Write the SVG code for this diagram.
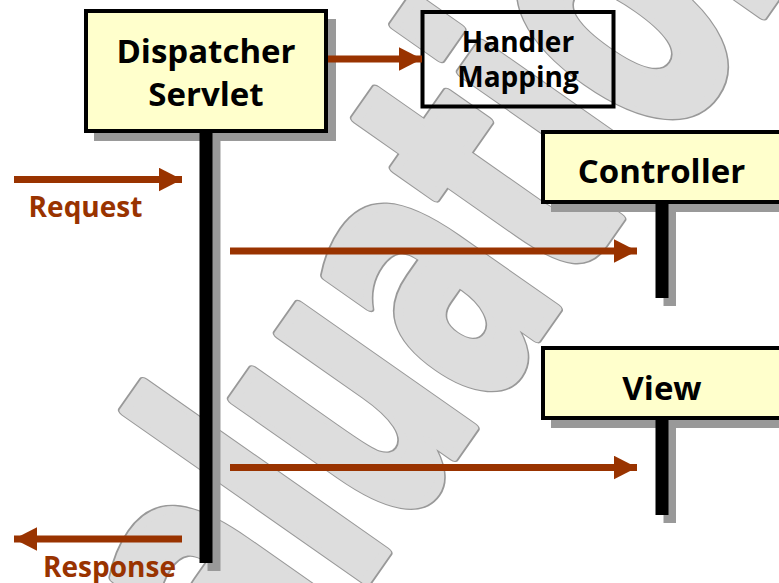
<svg xmlns="http://www.w3.org/2000/svg" width="779" height="583" viewBox="0 0 779 583">
  <style>
    .box { fill: #ffffcc; stroke: #000; stroke-width: 4; }
    .plain { fill: none; stroke: #000; stroke-width: 4; }
    .shadow { fill: #999999; }
    .life { fill: #000; }
    .label { font-family: "Open Sans", "Liberation Sans", sans-serif; font-weight: bold; fill: #000; text-anchor: middle; }
    .flow { stroke: #993300; stroke-width: 7; fill: none; }
    .flowtext { font-family: "Open Sans", "Liberation Sans", sans-serif; font-weight: bold; fill: #993300; font-size: 28px; text-anchor: middle; }
    .mark { font-family: "DejaVu Sans", sans-serif; font-weight: bold; font-size: 388px; stroke-linejoin: round; }
    .mark-edge { fill: #999999; stroke: #999999; stroke-width: 11; }
    .mark-face { fill: #dddddd; stroke: #dddddd; stroke-width: 8; }
  </style>
  <defs>
    <marker id="head" markerUnits="userSpaceOnUse" markerWidth="24" markerHeight="24" refX="23" refY="11.75" orient="auto">
      <path d="M0,0 L23,11.75 L0,23.5 z" fill="#993300"/>
    </marker>
  </defs>

  <rect width="779" height="583" fill="#fff"/>

  <!-- background watermark: outline layer, then face layer -->
  <g id="watermark" transform="translate(109,947.5) rotate(-55) scale(0.55,1)">
    <text class="mark mark-edge"><tspan vector-effect="non-scaling-stroke">Evaluation</tspan></text>
    <text class="mark mark-face"><tspan vector-effect="non-scaling-stroke">Evaluation</tspan></text>
  </g>

  <g id="dispatcher-servlet">
    <rect class="shadow" x="94" y="19" width="242" height="122"/>
    <rect class="box" x="86" y="11" width="240" height="120"/>
    <rect class="shadow" x="207.5" y="141" width="13" height="430"/>
    <rect class="life" x="199.5" y="133" width="13" height="430"/>
    <text class="label" x="206" y="63" font-size="33">Dispatcher</text>
    <text class="label" x="206" y="106" font-size="33">Servlet</text>
  </g>

  <g id="handler-mapping">
    <rect class="plain" x="422.5" y="12" width="191" height="94.5"/>
    <text class="label" x="518" y="52" font-size="28">Handler</text>
    <text class="label" x="518" y="87" font-size="28">Mapping</text>
  </g>

  <g id="controller">
    <rect class="shadow" x="551" y="140" width="240" height="72"/>
    <rect class="box" x="543" y="132" width="240" height="70"/>
    <rect class="shadow" x="663.5" y="212" width="12.5" height="94"/>
    <rect class="life" x="655.5" y="204" width="13" height="94"/>
    <text class="label" x="661.5" y="183" font-size="33">Controller</text>
  </g>

  <g id="view">
    <rect class="shadow" x="551" y="356" width="240" height="72"/>
    <rect class="box" x="543" y="348" width="240" height="70"/>
    <rect class="shadow" x="663.5" y="428" width="12.5" height="95"/>
    <rect class="life" x="655.5" y="420" width="13" height="95"/>
    <text class="label" x="662" y="400" font-size="33">View</text>
  </g>

  <g id="connectors">
    <line class="flow" x1="328" y1="59" x2="422" y2="59" marker-end="url(#head)"/>
    <line class="flow" x1="14" y1="179.5" x2="182" y2="179.5" marker-end="url(#head)"/>
    <text class="flowtext" x="85.5" y="217">Request</text>
    <line class="flow" x1="230" y1="251" x2="637" y2="251" marker-end="url(#head)"/>
    <line class="flow" x1="230" y1="467.5" x2="637" y2="467.5" marker-end="url(#head)"/>
    <line class="flow" x1="182" y1="539" x2="14" y2="539" marker-end="url(#head)"/>
    <text class="flowtext" x="109.5" y="577">Response</text>
  </g>
</svg>
